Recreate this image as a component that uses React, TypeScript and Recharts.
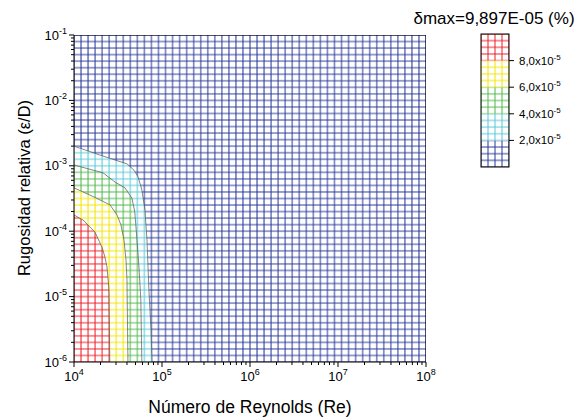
import { ComposedChart, Area, XAxis, YAxis } from "recharts"

// axis ticks
const reDecades = [1e4, 1e5, 1e6, 1e7, 1e8]
const epsDecades = [1e-6, 1e-5, 1e-4, 1e-3, 1e-2, 1e-1]
const minorSteps = [2, 3, 4, 5, 6, 7, 8, 9]

// legend levels (delta, %)
const levelValues = [2e-5, 4e-5, 6e-5, 8e-5]
const levelLabels = ["2,0x10", "4,0x10", "6,0x10", "8,0x10"]
const levelExp = "-5"
const bandColors = ["#27369a", "#56c8d8", "#4db848", "#f2e600", "#ee1c25"]

// whole domain (delta < 2e-5)
const background = [
  { re: 1e4, eps: 1e-1 },
  { re: 1e8, eps: 1e-1 },
  { re: 1e8, eps: 1e-6 },
]

// contour delta = 2e-5
const contour2 = [
  { re: 1e4, eps: 2.0e-3 },
  { re: 1.97e4, eps: 1.46e-3 },
  { re: 4.0e4, eps: 1.07e-3 },
  { re: 4.8e4, eps: 8.6e-4 },
  { re: 5.35e4, eps: 6.75e-4 },
  { re: 5.9e4, eps: 4.3e-4 },
  { re: 6.4e4, eps: 2.1e-4 },
  { re: 6.75e4, eps: 7.3e-5 },
  { re: 7.1e4, eps: 1.26e-5 },
  { re: 7.5e4, eps: 3.1e-6 },
  { re: 7.7e4, eps: 1e-6 },
]

// contour delta = 4e-5
const contour4 = [
  { re: 1e4, eps: 1.03e-3 },
  { re: 2.14e4, eps: 7.8e-4 },
  { re: 2.92e4, eps: 5.65e-4 },
  { re: 3.8e4, eps: 4.6e-4 },
  { re: 4.55e4, eps: 3.2e-4 },
  { re: 4.9e4, eps: 2.0e-4 },
  { re: 5.2e4, eps: 7.3e-5 },
  { re: 5.5e4, eps: 2.55e-5 },
  { re: 5.75e4, eps: 8.9e-6 },
  { re: 5.9e4, eps: 1e-6 },
]

// contour delta = 6e-5
const contour6 = [
  { re: 1e4, eps: 4.6e-4 },
  { re: 1.6e4, eps: 3.45e-4 },
  { re: 2.57e4, eps: 2.52e-4 },
  { re: 3.08e4, eps: 1.77e-4 },
  { re: 3.42e4, eps: 1.24e-4 },
  { re: 3.7e4, eps: 7.3e-5 },
  { re: 3.9e4, eps: 3.6e-5 },
  { re: 4.0e4, eps: 1.8e-5 },
  { re: 4.1e4, eps: 1e-6 },
]

// contour delta = 8e-5
const contour8 = [
  { re: 1e4, eps: 1.77e-4 },
  { re: 1.27e4, eps: 1.48e-4 },
  { re: 1.73e4, eps: 9.7e-5 },
  { re: 2.08e4, eps: 5.7e-5 },
  { re: 2.25e4, eps: 4.0e-5 },
  { re: 2.37e4, eps: 2.85e-5 },
  { re: 2.5e4, eps: 1.26e-5 },
  { re: 2.55e4, eps: 1e-6 },
]

const regions = [background, contour2, contour4, contour6, contour8]

const withMinor = (decades: number[]) =>
  decades.flatMap((d, i) => (i < decades.length - 1 ? [d, ...minorSteps.map((m) => m * d)] : [d]))

const reTicks = withMinor(reDecades)
const epsTicks = withMinor(epsDecades)

const W = 587
const H = 420
const plotLeft = 74
const plotTop = 35
const plotRight = 426
const plotBottom = 362
const cellW = (plotRight - plotLeft) / 50
const cellH = (plotBottom - plotTop) / 50
const font = "Arial, 'Liberation Sans', sans-serif"

const isMajor = (v: number) => {
  const l = Math.log10(v)
  return Math.abs(l - Math.round(l)) < 1e-6
}

const MeshPattern = ({ id, color, x, y, w, h }: any) => (
  <pattern id={id} patternUnits="userSpaceOnUse" x={x} y={y} width={w} height={h}>
    <rect width={w} height={h} fill="#fff" />
    <path d={`M0 0H${w}M0 ${h}H${w}M0 0V${h}M${w} 0V${h}`} stroke={color} strokeWidth={1} fill="none" />
  </pattern>
)

const XTick = ({ x, y, payload }: any) => {
  const v = payload.value
  const major = isMajor(v)
  return (
    <g>
      <line x1={x} x2={x} y1={y} y2={y + (major ? 5 : 3)} stroke="#000" />
      {major && (
        <text x={x} y={y + 19} textAnchor="middle" fontSize={13} fontFamily={font} fill="#000">
          10
          <tspan dy={-6} fontSize={9}>
            {Math.round(Math.log10(v))}
          </tspan>
        </text>
      )}
    </g>
  )
}

const YTick = ({ x, y, payload }: any) => {
  const v = payload.value
  const major = isMajor(v)
  return (
    <g>
      <line x1={x} x2={x - (major ? 5 : 3)} y1={y} y2={y} stroke="#000" />
      {major && (
        <text x={x - 7} y={y + 4.5} textAnchor="end" fontSize={13} fontFamily={font} fill="#000">
          10
          <tspan dy={-6} fontSize={9}>
            {Math.round(Math.log10(v))}
          </tspan>
        </text>
      )}
    </g>
  )
}

// legend box
const legX = 481
const legTop = 34
const legW = 28
const bandH = 26.6
const legBottom = legTop + bandH * bandColors.length

export default function App() {
  return (
    <div style={{ position: "relative", width: W, height: H }}>
      <style>{"body{margin:0}"}</style>
      <ComposedChart
        width={W}
        height={H}
        margin={{ top: plotTop, right: W - plotRight, bottom: 0, left: 0 }}
      >
        <defs>
          {bandColors.map((c, i) => (
            <MeshPattern key={c} id={`mesh${i}`} color={c} x={plotLeft} y={plotTop} w={cellW} h={cellH} />
          ))}
        </defs>
        <XAxis
          dataKey="re"
          type="number"
          scale="log"
          domain={[1e4, 1e8]}
          ticks={reTicks}
          interval={0}
          allowDataOverflow
          tickLine={false}
          tickSize={0}
          tickMargin={0}
          tick={<XTick />}
          axisLine={{ stroke: "#000" }}
          height={H - plotBottom}
        />
        <YAxis
          dataKey="eps"
          type="number"
          scale="log"
          domain={[1e-6, 1e-1]}
          ticks={epsTicks}
          interval={0}
          allowDataOverflow
          tickLine={false}
          tickSize={0}
          tickMargin={0}
          tick={<YTick />}
          axisLine={{ stroke: "#000" }}
          width={plotLeft}
        />
        {regions.map((d, i) => (
          <Area
            key={i}
            data={d}
            dataKey="eps"
            type="linear"
            baseValue={1e-6}
            fill={`url(#mesh${i})`}
            fillOpacity={1}
            stroke={i === 0 ? "#000" : "#555"}
            strokeWidth={i === 0 ? 1 : 0.7}
            dot={false}
            activeDot={false}
            isAnimationActive={false}
          />
        ))}
      </ComposedChart>

      <svg
        width={W}
        height={H}
        style={{ position: "absolute", left: 0, top: 0, pointerEvents: "none" }}
        fontFamily={font}
      >
        <defs>
          {bandColors.map((c, i) => (
            <MeshPattern key={c} id={`legmesh${i}`} color={c} x={legX} y={legTop} w={legW / 4} h={bandH / 4} />
          ))}
        </defs>
        <text x={494} y={24} textAnchor="middle" fontSize={17} fill="#000">
          δmax=9,897E-05 (%)
        </text>
        <text x={(plotLeft + plotRight) / 2} y={413} textAnchor="middle" fontSize={17.5} fill="#000">
          Número de Reynolds (Re)
        </text>
        <text
          x={30}
          y={188}
          textAnchor="middle"
          fontSize={16.5}
          fill="#000"
          transform="rotate(-90 30 188)"
        >
          Rugosidad relativa (ε/D)
        </text>
        {bandColors.map((c, i) => (
          <rect
            key={c}
            x={legX}
            y={legBottom - bandH * (i + 1)}
            width={legW}
            height={bandH}
            fill={`url(#legmesh${i})`}
          />
        ))}
        <rect x={legX} y={legTop} width={legW} height={legBottom - legTop} fill="none" stroke="#000" />
        {levelValues.map((v, i) => {
          const ty = legBottom - bandH * (i + 1)
          return (
            <g key={v}>
              <line x1={legX + legW} x2={legX + legW + 5} y1={ty} y2={ty} stroke="#000" />
              <text x={legX + legW + 10} y={ty + 4} fontSize={11.5} fill="#000">
                {levelLabels[i]}
                <tspan dy={-5} fontSize={8}>
                  {levelExp}
                </tspan>
              </text>
            </g>
          )
        })}
      </svg>
    </div>
  )
}
